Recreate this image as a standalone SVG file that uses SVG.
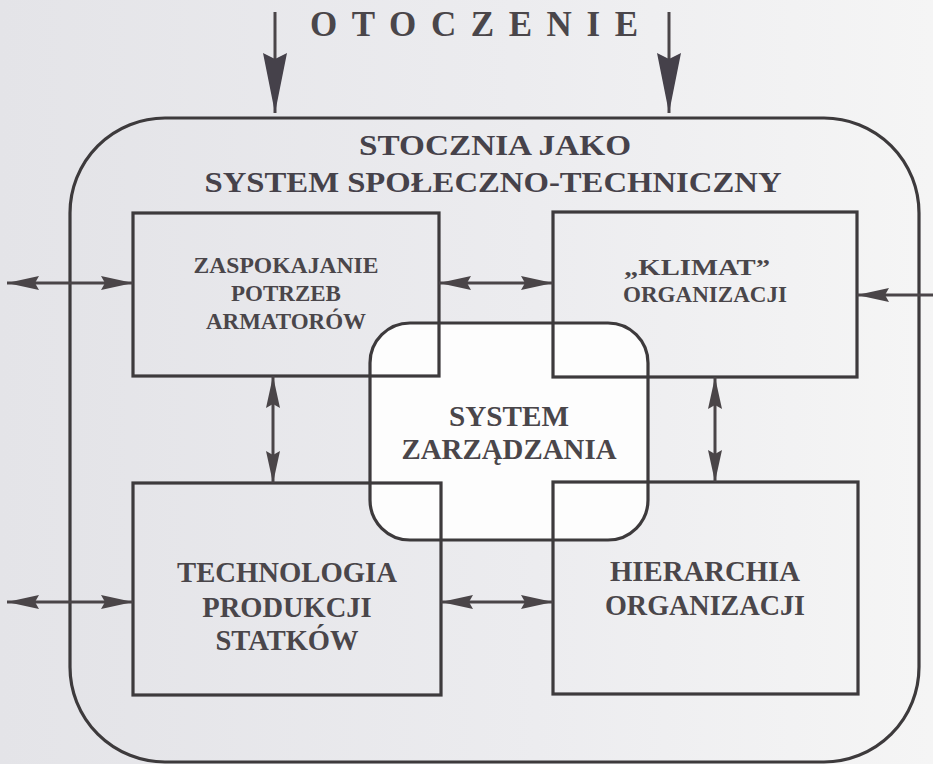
<svg xmlns="http://www.w3.org/2000/svg" width="933" height="764" viewBox="0 0 933 764">
  <defs>
    <linearGradient id="paper" x1="0" y1="0" x2="1" y2="0">
      <stop offset="0" stop-color="#e4e4e8"/>
      <stop offset="0.55" stop-color="#ececef"/>
      <stop offset="1" stop-color="#f5f5f5"/>
    </linearGradient>
    <!-- long narrow arrowhead for the connectors -->
    <marker id="head" viewBox="0 0 32 14" refX="32" refY="7" markerWidth="32" markerHeight="14" markerUnits="userSpaceOnUse" orient="auto-start-reverse">
      <path d="M0,0 L32,7 L0,14 L4,7 z" fill="#4a4548"/>
    </marker>
    <!-- larger head for the environment inputs -->
    <marker id="bighead" viewBox="0 0 60 24" refX="60" refY="12" markerWidth="60" markerHeight="24" markerUnits="userSpaceOnUse" orient="auto">
      <path d="M0,0 L60,12 L0,24 L6,12 z" fill="#45414a"/>
    </marker>
    <style>
      .frame { fill: none; stroke: #3d3a3c; stroke-width: 3.2; }
      .link { fill: none; stroke: #4a4548; stroke-width: 3; }
      .lbl { font-family: "Liberation Serif", "DejaVu Serif", serif; font-weight: bold; fill: #4a464a; text-anchor: middle; }
      .head { font-size: 29px; fill: #46424a; }
      .box { font-size: 23px; }
      .big { font-size: 28.5px; }
    </style>
  </defs>

  <!-- paper -->
  <rect x="0" y="0" width="933" height="764" fill="url(#paper)"/>

  <!-- environment title -->
  <g id="otoczenie">
    <text class="lbl" x="310" y="36" font-size="35" textLength="328" lengthAdjust="spacing" style="text-anchor:start" fill="#43404a">OTOCZENIE</text>
  </g>

  <!-- shipyard as socio-technical system (outer frame) -->
  <g id="stocznia">
    <rect x="70" y="118" width="849" height="644" rx="95" ry="95" fill="url(#paper)" stroke="#3d3a3c" stroke-width="3.2"/>
    <text class="lbl head" x="495" y="155" textLength="272" lengthAdjust="spacingAndGlyphs">STOCZNIA JAKO</text>
    <text class="lbl head" x="493" y="192" textLength="577" lengthAdjust="spacingAndGlyphs">SYSTEM SPOŁECZNO-TECHNICZNY</text>
  </g>

  <!-- management system: white core overlapping the four boxes -->
  <g id="zarzadzanie-tlo">
    <rect x="370" y="323" width="278" height="217" rx="40" ry="40" fill="#fdfdfd"/>
  </g>

  <g id="zaspokajanie">
    <rect class="frame" x="133" y="213" width="306" height="163"/>
    <text class="lbl box" x="286" y="273" textLength="185" lengthAdjust="spacingAndGlyphs">ZASPOKAJANIE</text>
    <text class="lbl box" x="286" y="301">POTRZEB</text>
    <text class="lbl box" x="286" y="329">ARMATORÓW</text>
  </g>

  <g id="klimat">
    <rect class="frame" x="553" y="212" width="304" height="165"/>
    <text class="lbl box" x="697" y="275" textLength="146" lengthAdjust="spacingAndGlyphs">„KLIMAT”</text>
    <text class="lbl box" x="705" y="302" textLength="164" lengthAdjust="spacingAndGlyphs">ORGANIZACJI</text>
  </g>

  <g id="technologia">
    <rect class="frame" x="133" y="483" width="308" height="212"/>
    <text class="lbl big" x="287" y="582" textLength="220" lengthAdjust="spacingAndGlyphs">TECHNOLOGIA</text>
    <text class="lbl big" x="287" y="617">PRODUKCJI</text>
    <text class="lbl big" x="287" y="650">STATKÓW</text>
  </g>

  <g id="hierarchia">
    <rect class="frame" x="553" y="482" width="305" height="212"/>
    <text class="lbl big" x="705" y="581" textLength="190" lengthAdjust="spacingAndGlyphs">HIERARCHIA</text>
    <text class="lbl big" x="705" y="615" textLength="200" lengthAdjust="spacingAndGlyphs">ORGANIZACJI</text>
  </g>

  <g id="zarzadzanie">
    <rect class="frame" x="370" y="323" width="278" height="217" rx="40" ry="40"/>
    <text class="lbl big" x="509" y="426" textLength="120" lengthAdjust="spacingAndGlyphs">SYSTEM</text>
    <text class="lbl big" x="509" y="459" textLength="215" lengthAdjust="spacingAndGlyphs">ZARZĄDZANIA</text>
  </g>

  <!-- connectors -->
  <g id="connectors">
    <line class="link" x1="275" y1="12" x2="275" y2="113" stroke-width="4" marker-end="url(#bighead)"/>
    <line class="link" x1="669" y1="12" x2="669" y2="113" stroke-width="4" marker-end="url(#bighead)"/>

    <line class="link" x1="7" y1="283" x2="133" y2="283" marker-start="url(#head)" marker-end="url(#head)"/>
    <line class="link" x1="439" y1="283" x2="553" y2="283" marker-start="url(#head)" marker-end="url(#head)"/>
    <line class="link" x1="933" y1="295" x2="857" y2="295" marker-end="url(#head)"/>

    <line class="link" x1="273" y1="376" x2="273" y2="483" marker-start="url(#head)" marker-end="url(#head)"/>
    <line class="link" x1="715" y1="377" x2="715" y2="482" marker-start="url(#head)" marker-end="url(#head)"/>

    <line class="link" x1="7" y1="602" x2="133" y2="602" marker-start="url(#head)" marker-end="url(#head)"/>
    <line class="link" x1="441" y1="602" x2="553" y2="602" marker-start="url(#head)" marker-end="url(#head)"/>
  </g>
</svg>
